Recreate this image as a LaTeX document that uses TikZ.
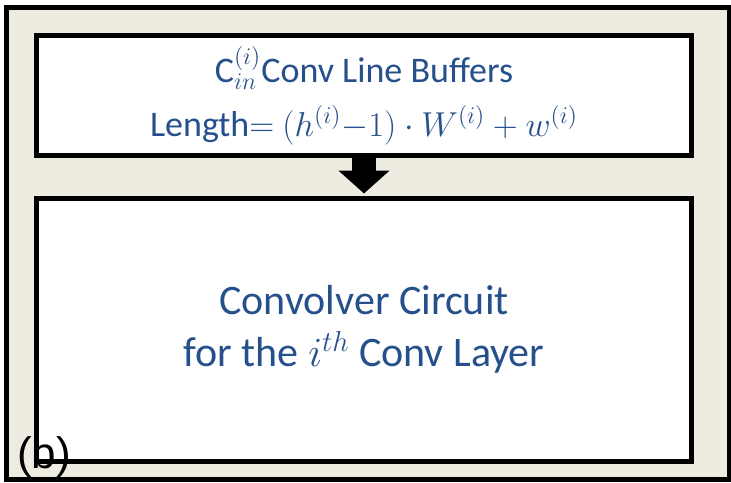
\documentclass[tikz,border=0pt]{standalone}
\usepackage{fontspec}
\setmainfont{Carlito}
\newfontfamily\labelfont{Liberation Sans}
\usetikzlibrary{arrows.meta,positioning}
\definecolor{paper}{HTML}{EEECE1}
\definecolor{ink}{RGB}{37,80,140}

\begin{document}
\begin{tikzpicture}[x=0.5pt,y=-0.5pt,
   box/.style={draw,line width=2.5pt,fill=white,minimum width=327.5pt,inner sep=0pt,
      align=center,text=ink}]
   \useasboundingbox (0,0) rectangle (731,482);
   \draw[line width=2.5pt,fill=paper] (6.5,7) rectangle (729.5,479.5);
   \node[box,minimum height=60pt,font=\fontsize{18}{27}\selectfont] (buffers) at (364,95.5)
      {C$_{in}^{(i)}$Conv Line Buffers\\ Length$=$ $(h^{(i)}{-}1)\cdot W^{(i)}+w^{(i)}$};
   \node[box,minimum height=131.75pt,font=\fontsize{21}{26}\selectfont] (convolver) at (364,329.75)
      {Convolver Circuit\\ for the $i^{th}$ Conv Layer};
   \draw[line width=12pt,-{Triangle[width=25pt,length=11.5pt]},shorten >=1pt] (buffers) -- (convolver); % arrow between the two blocks
   \node[font=\labelfont\fontsize{22}{26}\selectfont,inner sep=0pt] (tag) at (44,457) {(b)};
\end{tikzpicture}
\end{document}
